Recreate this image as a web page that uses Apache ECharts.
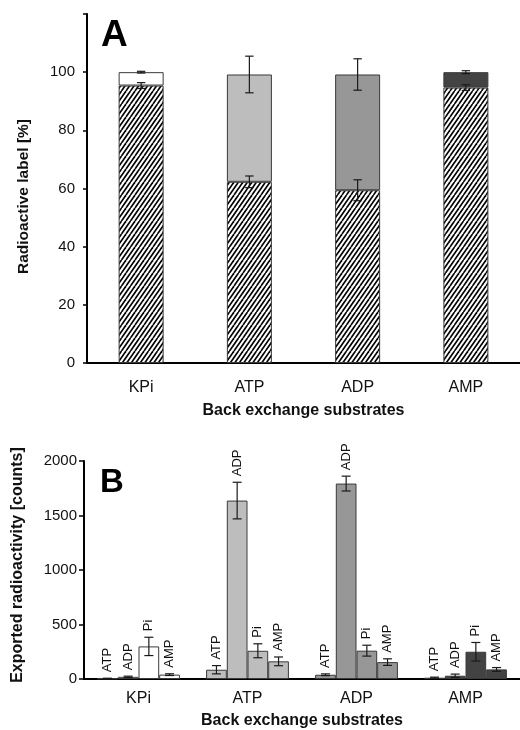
<!DOCTYPE html>
<html><head><meta charset="utf-8">
<script src="https://cdn.jsdelivr.net/npm/echarts@6/dist/echarts.min.js"></script>
<style>html,body{margin:0;padding:0;background:#fff}#chart{width:520px;height:730px}</style>
</head><body><div id="chart"></div>
<script>
// ---------- data ----------
const categories = ['KPi', 'ATP', 'ADP', 'AMP'];
// Panel A: radioactive label [%]
const labelRetained = [95.4, 62.3, 59.4, 94.7];
const labelRetainedErr = [1.0, 2.0, 3.6, 1.0];
const labelTotal = [100, 99.2, 99.2, 100];
const labelTotalErr = [0.3, 6.3, 5.4, 0.5];
const yTicksA = [0, 20, 40, 60, 80, 100, 120];
// Panel B: exported radioactivity [counts]
const exportedSpecies = ['ATP', 'ADP', 'Pi', 'AMP'];
const exportATP = [5, 85, 39, 12];
const exportADP = [20, 1637, 1793, 30];
const exportPi = [299, 259, 260, 250];
const exportAMP = [40, 162, 155, 88];
const exportATPErr = [2, 38, 8, 5];
const exportADPErr = [6, 168, 68, 15];
const exportPiErr = [84, 64, 50, 85];
const exportAMPErr = [8, 40, 30, 17];
const yTicksB = [0, 500, 1000, 1500, 2000];

// ---------- style ----------
const FONT = '"Liberation Sans", Arial, Helvetica, sans-serif';
const groupColors = ['#ffffff', '#bdbdbd', '#979797', '#434343'];
const edge = '#3a3a3a';
const barWA = 45, barWB = 20.7;

function makeHatch() {
  const w = 9, h = 13, step = 4.5;
  const c = document.createElement('canvas');
  c.width = w; c.height = h;
  const g = c.getContext('2d');
  g.fillStyle = '#fff'; g.fillRect(0, 0, w, h);
  g.strokeStyle = '#000'; g.lineWidth = 1.6;
  for (let k = -3; k <= 3; k++) {
    g.beginPath(); g.moveTo(k * step, h); g.lineTo(k * step + w, 0); g.stroke();
  }
  return c;
}
const hatch = { image: makeHatch(), repeat: 'repeat' };

const exportValues = [exportATP, exportADP, exportPi, exportAMP];
const exportErrs = [exportATPErr, exportADPErr, exportPiErr, exportAMPErr];

function errRender(capHalf, offset, labelText) {
  return function (params, api) {
    const x = api.value(0), v = api.value(1), e = api.value(2);
    const t = api.coord([x, v + e]);
    const b = api.coord([x, Math.max(v - e, 0)]);
    const cx = t[0] + offset;
    const st = { stroke: '#1a1a1a', lineWidth: 1.2 };
    const children = [
      { type: 'line', shape: { x1: cx, y1: t[1], x2: cx, y2: b[1] }, style: st },
      { type: 'line', shape: { x1: cx - capHalf, y1: t[1], x2: cx + capHalf, y2: t[1] }, style: st },
      { type: 'line', shape: { x1: cx - capHalf, y1: b[1], x2: cx + capHalf, y2: b[1] }, style: st }
    ];
    if (labelText) {
      children.push({
        type: 'text', x: cx, y: t[1] - 6, rotation: Math.PI / 2,
        style: { text: labelText, textAlign: 'left', textVerticalAlign: 'middle',
                 font: '13px ' + FONT, fill: '#111' }
      });
    }
    return { type: 'group', children };
  };
}

const axisLineStyle = { show: true, lineStyle: { color: '#000', width: 2 } };

const series = [
  // Panel A stacked bars
  {
    type: 'bar', xAxisIndex: 0, yAxisIndex: 0, stack: 'a', barWidth: barWA,
    data: labelRetained,
    itemStyle: { color: hatch, borderColor: edge, borderWidth: 1 },
    silent: true
  },
  {
    type: 'bar', xAxisIndex: 0, yAxisIndex: 0, stack: 'a', barWidth: barWA,
    data: labelTotal.map((t, i) => ({
      value: +(t - labelRetained[i]).toFixed(2),
      itemStyle: { color: groupColors[i] }
    })),
    itemStyle: { borderColor: edge, borderWidth: 1 },
    silent: true
  },
  {
    type: 'custom', xAxisIndex: 0, yAxisIndex: 0, z: 5,
    renderItem: errRender(4.2, 0, null),
    data: categories.map((c, i) => [i, labelRetained[i], labelRetainedErr[i]])
  },
  {
    type: 'custom', xAxisIndex: 0, yAxisIndex: 0, z: 5,
    renderItem: errRender(4.2, 0, null),
    data: categories.map((c, i) => [i, labelTotal[i], labelTotalErr[i]])
  }
];

exportedSpecies.forEach((sp, k) => {
  series.push({
    type: 'bar', name: sp, xAxisIndex: 1, yAxisIndex: 1, barWidth: barWB, barGap: '0%',
    data: exportValues[k].map((v, i) => ({ value: v, itemStyle: { color: groupColors[i] } })),
    itemStyle: { borderColor: edge, borderWidth: 1 },
    silent: true
  });
});
exportedSpecies.forEach((sp, k) => {
  series.push({
    type: 'custom', xAxisIndex: 1, yAxisIndex: 1, z: 5,
    renderItem: errRender(4.5, (k - 1.5) * barWB, sp),
    data: categories.map((c, i) => [i, exportValues[k][i], exportErrs[k][i]])
  });
});

const titleStyle = { color: '#111', fontWeight: 'bold', fontFamily: FONT };

const option = {
  animation: false,
  backgroundColor: '#fff',
  textStyle: { fontFamily: FONT },
  grid: [
    { left: 87, top: 14, width: 434, height: 349 },
    { left: 84, top: 461, width: 444, height: 218 }
  ],
  xAxis: [
    {
      type: 'category', gridIndex: 0, data: categories,
      axisLine: axisLineStyle, axisTick: { show: false },
      axisLabel: { color: '#111', fontSize: 16, margin: 17, fontFamily: FONT },
      name: 'Back exchange substrates', nameLocation: 'middle', nameGap: 40,
      nameTextStyle: Object.assign({ fontSize: 16 }, titleStyle)
    },
    {
      type: 'category', gridIndex: 1, data: categories,
      axisLine: axisLineStyle, axisTick: { show: false },
      axisLabel: { color: '#111', fontSize: 16, margin: 12, fontFamily: FONT },
      name: 'Back exchange substrates', nameLocation: 'middle', nameGap: 34,
      nameTextStyle: Object.assign({ fontSize: 16 }, titleStyle)
    }
  ],
  yAxis: [
    {
      type: 'value', gridIndex: 0, min: yTicksA[0], max: yTicksA[yTicksA.length - 1],
      interval: yTicksA[1] - yTicksA[0],
      axisLine: axisLineStyle,
      axisTick: { show: true, length: 4, lineStyle: { color: '#000', width: 1.5 } },
      splitLine: { show: false },
      axisLabel: { color: '#111', fontSize: 15, margin: 12, fontFamily: FONT,
                   formatter: v => (v === yTicksA[yTicksA.length - 1] ? '' : String(v)) },
      name: 'Radioactive label [%]', nameLocation: 'middle', nameGap: 55, nameRotate: 90,
      nameTextStyle: Object.assign({ fontSize: 15.5, padding: [0, 16, 0, 0] }, titleStyle)
    },
    {
      type: 'value', gridIndex: 1, min: yTicksB[0], max: yTicksB[yTicksB.length - 1],
      interval: yTicksB[1] - yTicksB[0],
      axisLine: axisLineStyle,
      axisTick: { show: true, length: 5, lineStyle: { color: '#000', width: 1.5 } },
      splitLine: { show: false },
      axisLabel: { color: '#111', fontSize: 15, margin: 7, fontFamily: FONT,
                   formatter: v => String(v) },
      name: 'Exported radioactivity [counts]', nameLocation: 'middle', nameGap: 58, nameRotate: 90,
      nameTextStyle: Object.assign({ fontSize: 16, padding: [0, 0, 0, 10] }, titleStyle)
    }
  ],
  graphic: [
    { type: 'text', left: 101, top: 17, style: { text: 'A', font: 'bold 37px ' + FONT, fill: '#000' } },
    { type: 'text', left: 100, top: 466, style: { text: 'B', font: 'bold 33px ' + FONT, fill: '#000' } }
  ],
  series
};

const chart = echarts.init(document.getElementById('chart'), null, { renderer: 'canvas' });
chart.setOption(option);
</script>
</body></html>
